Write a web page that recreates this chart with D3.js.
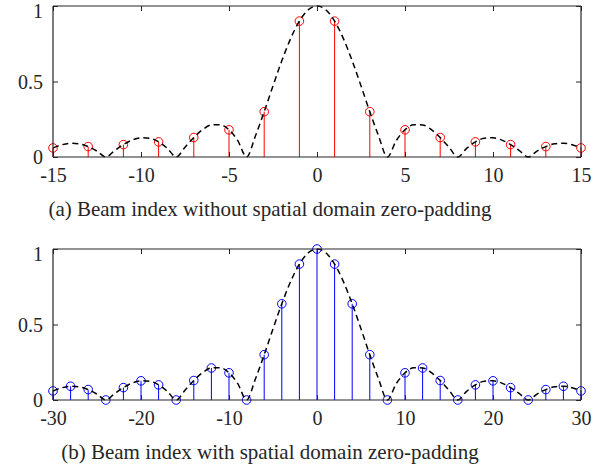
<!DOCTYPE html>
<html><head><meta charset="utf-8">
<script src="https://cdn.jsdelivr.net/npm/d3@7/dist/d3.min.js"></script>
<style>body{margin:0;background:#fff}svg{display:block}</style>
</head><body>
<script>
// ---- data ----
const topStemX = [-15,-13,-11,-9,-7,-5,-3,-1,1,3,5,7,9,11,13,15];
const topStemY = [0.060,0.069,0.082,0.100,0.129,0.180,0.300,0.900,0.900,0.300,0.180,0.129,0.100,0.082,0.069,0.060];
const topCurveX = [-15,-14.5,-14,-13.5,-13,-12.5,-12,-11.5,-11,-10.5,-10,-9.5,-9,-8.5,-8,-7.5,-7,-6.5,-6,-5.5,-5,-4.5,-4,-3.5,-3,-2.5,-2,-1.5,-1,-0.5,0,0.5,1,1.5,2,2.5,3,3.5,4,4.5,5,5.5,6,6.5,7,7.5,8,8.5,9,9.5,10,10.5,11,11.5,12,12.5,13,13.5,14,14.5,15];
const topCurveY = [0.060,0.081,0.091,0.087,0.069,0.039,0,0.042,0.082,0.112,0.127,0.124,0.100,0.057,0,0.065,0.129,0.181,0.212,0.214,0.180,0.108,0,0.139,0.300,0.471,0.637,0.784,0.900,0.975,1,0.975,0.900,0.784,0.637,0.471,0.300,0.139,0,0.108,0.180,0.214,0.212,0.181,0.129,0.065,0,0.057,0.100,0.124,0.127,0.112,0.082,0.042,0,0.039,0.069,0.087,0.091,0.081,0.060];
const botStemX = [-30,-28,-26,-24,-22,-20,-18,-16,-14,-12,-10,-8,-6,-4,-2,0,2,4,6,8,10,12,14,16,18,20,22,24,26,28,30];
const botStemY = [0.060,0.091,0.069,0,0.082,0.127,0.100,0,0.129,0.212,0.180,0,0.300,0.637,0.900,1.000,0.900,0.637,0.300,0,0.180,0.212,0.129,0,0.100,0.127,0.082,0,0.069,0.091,0.060];
const botCurveX = [-30,-29,-28,-27,-26,-25,-24,-23,-22,-21,-20,-19,-18,-17,-16,-15,-14,-13,-12,-11,-10,-9,-8,-7,-6,-5,-4,-3,-2,-1,0,1,2,3,4,5,6,7,8,9,10,11,12,13,14,15,16,17,18,19,20,21,22,23,24,25,26,27,28,29,30];
const botCurveY = [0.060,0.081,0.091,0.087,0.069,0.039,0,0.042,0.082,0.112,0.127,0.124,0.100,0.057,0,0.065,0.129,0.181,0.212,0.214,0.180,0.108,0,0.139,0.300,0.471,0.637,0.784,0.900,0.975,1,0.975,0.900,0.784,0.637,0.471,0.300,0.139,0,0.108,0.180,0.214,0.212,0.181,0.129,0.065,0,0.057,0.100,0.124,0.127,0.112,0.082,0.042,0,0.039,0.069,0.087,0.091,0.081,0.060];
const topXTicks = [-15,-10,-5,0,5,10,15];
const botXTicks = [-30,-20,-10,0,10,20,30];
const yTicks = [0,0.5,1];
const yTickLabels = ["0","0.5","1"];
const captions = ["(a) Beam index without spatial domain zero-padding","(b) Beam index with spatial domain zero-padding"];

// ---- drawing ----
const W = 612, H = 467;
const svg = d3.select("body").append("svg").attr("width", W).attr("height", H);
const font = "Liberation Serif, Times New Roman, serif";
const axisCol = "#262626";

function panel(opt) {
  const x = d3.scaleLinear().domain(opt.xDomain).range([53, 581]);
  const y = d3.scaleLinear().domain([0, 1]).range([opt.y0, opt.y1]);
  const g = svg.append("g");
  // stems
  g.selectAll("line.stem").data(opt.sx).join("line")
    .attr("x1", d => x(d)).attr("x2", d => x(d))
    .attr("y1", y(0)).attr("y2", (d, i) => y(opt.sy[i]))
    .attr("stroke", opt.color).attr("stroke-width", 1);
  g.selectAll("circle").data(opt.sx).join("circle")
    .attr("cx", d => x(d)).attr("cy", (d, i) => y(opt.sy[i]))
    .attr("r", 4.3).attr("fill", "none").attr("stroke", opt.color).attr("stroke-width", 1);
  // dashed curve
  const line = d3.line().x(d => x(d[0])).y(d => y(d[1])).curve(d3.curveMonotoneX);
  g.append("path").datum(opt.cx.map((v, i) => [v, opt.cy[i]]))
    .attr("d", line).attr("fill", "none").attr("stroke", "#000")
    .attr("stroke-width", 1.5).attr("stroke-dasharray", "6,4");
  // axes
  const ax = g.append("g").attr("transform", `translate(0,${y(0)})`)
    .call(d3.axisBottom(x).tickValues(opt.xt).tickSize(-5).tickPadding(10).tickFormat(d => String(d)));
  const axTop = g.append("g").attr("transform", `translate(0,${y(1)})`)
    .call(d3.axisTop(x).tickValues(opt.xt).tickSize(-5).tickFormat(""));
  const ay = g.append("g").attr("transform", `translate(${x.range()[0]},0)`)
    .call(d3.axisLeft(y).tickValues(yTicks).tickSize(-5).tickPadding(10).tickFormat((d, i) => yTickLabels[i]));
  const ayR = g.append("g").attr("transform", `translate(${x.range()[1]},0)`)
    .call(d3.axisRight(y).tickValues(yTicks).tickSize(-5).tickFormat(""));
  [ax, axTop, ay, ayR].forEach(a => {
    a.attr("font-family", font);
    a.select(".domain").attr("stroke", axisCol).attr("stroke-width", 1.2).attr("d",
      a === ax || a === axTop ? `M${x.range()[0]},0H${x.range()[1]}` : `M0,${opt.y0}V${opt.y1}`);
    a.selectAll(".tick line").attr("stroke", axisCol);
    a.selectAll("text").attr("font-family", font).attr("font-size", 20).attr("fill", axisCol);
  });
  ax.selectAll("text").attr("dy", "0.75em");
  ay.selectAll("text").attr("dy", (d) => d === 1 ? "0.55em" : "0.34em");
  g.append("text").attr("x", 270).attr("y", opt.capY).attr("text-anchor", "middle")
    .attr("font-family", font).attr("font-size", 21).attr("fill", axisCol).text(opt.caption);
}

panel({xDomain: [-15, 15], y0: 157, y1: 6, sx: topStemX, sy: topStemY, cx: topCurveX, cy: topCurveY,
  color: "#ff0000", xt: topXTicks, caption: captions[0], capY: 216});
panel({xDomain: [-30, 30], y0: 400, y1: 249, sx: botStemX, sy: botStemY, cx: botCurveX, cy: botCurveY,
  color: "#0000ff", xt: botXTicks, caption: captions[1], capY: 459});
</script>
</body></html>
